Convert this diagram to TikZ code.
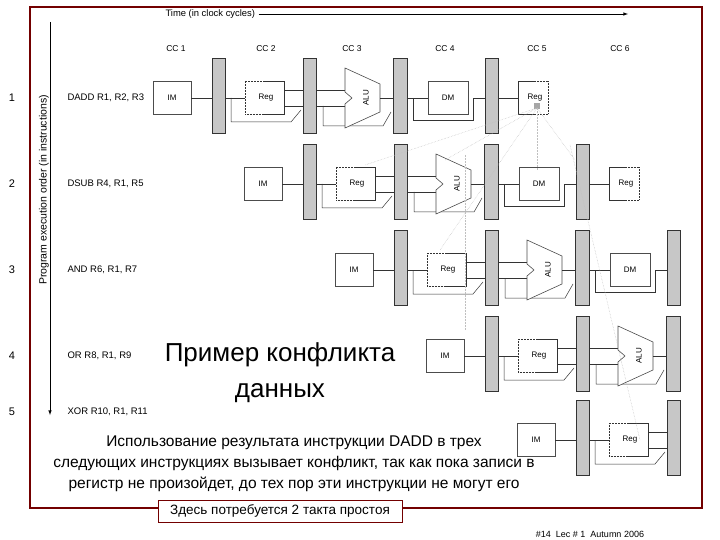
\documentclass[tikz,border=0pt]{standalone}
\usepackage{fontspec}
\setmainfont{Liberation Sans}
\begin{document}
\begin{tikzpicture}[x=1pt,y=-1pt,
  blk/.style={draw=black!70,line width=0.6pt,fill=white},
  bar/.style={draw=black!80,fill=black!22,line width=0.5pt},
  wire/.style={draw=black!80,line width=0.5pt},
  dep/.style={draw=black!25,line width=0.5pt,densely dotted},
  small/.style={font=\fontsize{8}{9}\selectfont}]
\useasboundingbox (0,0) rectangle (720,540);
\newcommand\pstage[3]{%
 \begin{scope}[shift={(#1,#2)}]
  \draw[blk] (0,-17) rectangle (38,16); \node[small] at (19,0) {IM};
  \draw[wire] (38,0) -- (59,0);
  \draw[bar] (59,-40) rectangle (72,35);
  \draw[wire] (72,0) -- (92,0);
  \draw[wire] (78,0) -- (78,24) -- (138,24) -- (148,12);
  \draw[wire] (110,-17) -- (131,-17) -- (131,16) -- (110,16);
  \draw[wire,densely dotted] (110,-17) -- (92,-17) -- (92,16) -- (110,16);
  \node[small] at (113,0) {Reg};
  \draw[wire] (131,-8) -- (150,-8);
  \draw[wire] (131,8) -- (150,8);
  \draw[bar] (150,-40) rectangle (163,35);
  \ifnum#3>2
  \draw[wire] (163,-8) -- (194,-8);
  \draw[wire] (163,8) -- (194,8);
  \draw[wire] (170,8) -- (170,28) -- (230,28) -- (238,14);
  \draw[blk] (192,-30) -- (227,-14) -- (227,14) -- (192,30) -- (192,6) -- (199,0) -- (192,-6) -- cycle;
  \node[small,rotate=90] at (213,0) {ALU};
  \draw[wire] (227,0) -- (240,0);
  \draw[bar] (240,-40) rectangle (254,35);
  \fi
  \ifnum#3>3
  \draw[wire] (254,0) -- (275,0);
  \draw[wire] (260,0) -- (260,22) -- (320,22) -- (320,0) -- (332,0);
  \draw[blk] (275,-17) rectangle (315,16); \node[small] at (295,0) {DM};
  \draw[bar] (332,-40) rectangle (345,35);
  \fi
  \ifnum#3>4
  \draw[wire] (345,0) -- (365,0);
  \draw[wire] (382,-17) -- (365,-17) -- (365,16) -- (382,16);
  \draw[wire,densely dotted] (382,-17) -- (395,-17) -- (395,16) -- (382,16);
  \node[small] at (382,0) {Reg};
  \fi
 \end{scope}}
\node[font=\fontsize{15.5}{21}\selectfont,align=center,inner sep=1pt] (para) at (294,464)
 {Использование результата инструкции DADD в трех\\следующих  инструкциях вызывает конфликт, так как пока записи в\\регистр не произойдет, до тех пор эти инструкции не могут его};
\pstage{153}{98}{5}
\pstage{244}{184}{5}
\pstage{335}{270}{4}
\pstage{426}{356}{3}
\pstage{517}{440}{2}
\fill[black!35] (534,103) rectangle (540,109);
\draw[dep] (537,108) -- (445,160);
\draw[dep] (537,108) -- (365,165);
\draw[dep] (537,108) -- (537,170);
\draw[dep] (537,108) -- (440,250);
\draw[dep] (537,108) -- (575,160);
\draw[dep] (465,155) -- (465,330);
\draw[dep] (570,145) -- (640,440);
% axes
\node[font=\fontsize{9.4}{10}\selectfont,anchor=west] (tl) at (162,14) {Time (in clock cycles)};
\draw[line width=0.6pt,-latex] (tl.east) -- (628,14);
\draw[line width=0.6pt,-latex] (50,22) -- (50,415);
\node[font=\fontsize{10.5}{11}\selectfont,rotate=90] at (44,190) {Program execution order (in instructions)};
\foreach \x/\t in {176/CC 1,266/CC 2,352/CC 3,445/CC 4,537/CC 5,620/CC 6}
  \node[font=\fontsize{8.5}{9}\selectfont] at (\x,49) {\t};
\foreach \y/\n/\t in {98/1/{DADD R1, R2, R3},184/2/{DSUB R4, R1, R5},270/3/{AND R6, R1, R7},356/4/{OR R8, R1, R9},412/5/{XOR R10, R1, R11}}{
  \node[font=\fontsize{11}{12}\selectfont] at (12,\y) {\n};
  \node[font=\fontsize{9.5}{10}\selectfont,anchor=west] at (64,\y) {\t};}
\node[font=\fontsize{26}{36}\selectfont,align=center,fill=white,inner sep=1pt] at (280,373) {Пример конфликта\\данных};
\draw[red!45!black,line width=1.5pt] (30,7) rectangle (702,508);
\node[draw=red!45!black,line width=1pt,fill=white,font=\fontsize{13.5}{15}\selectfont,minimum width=244pt,minimum height=22pt,inner sep=1pt] at (280,511) {Здесь потребуется 2 такта простоя};
\node[font=\fontsize{9}{10}\selectfont\rmfamily] at (590,534) {\#14 \ Lec \# 1 \ Autumn 2006};
\end{tikzpicture}
\end{document}
